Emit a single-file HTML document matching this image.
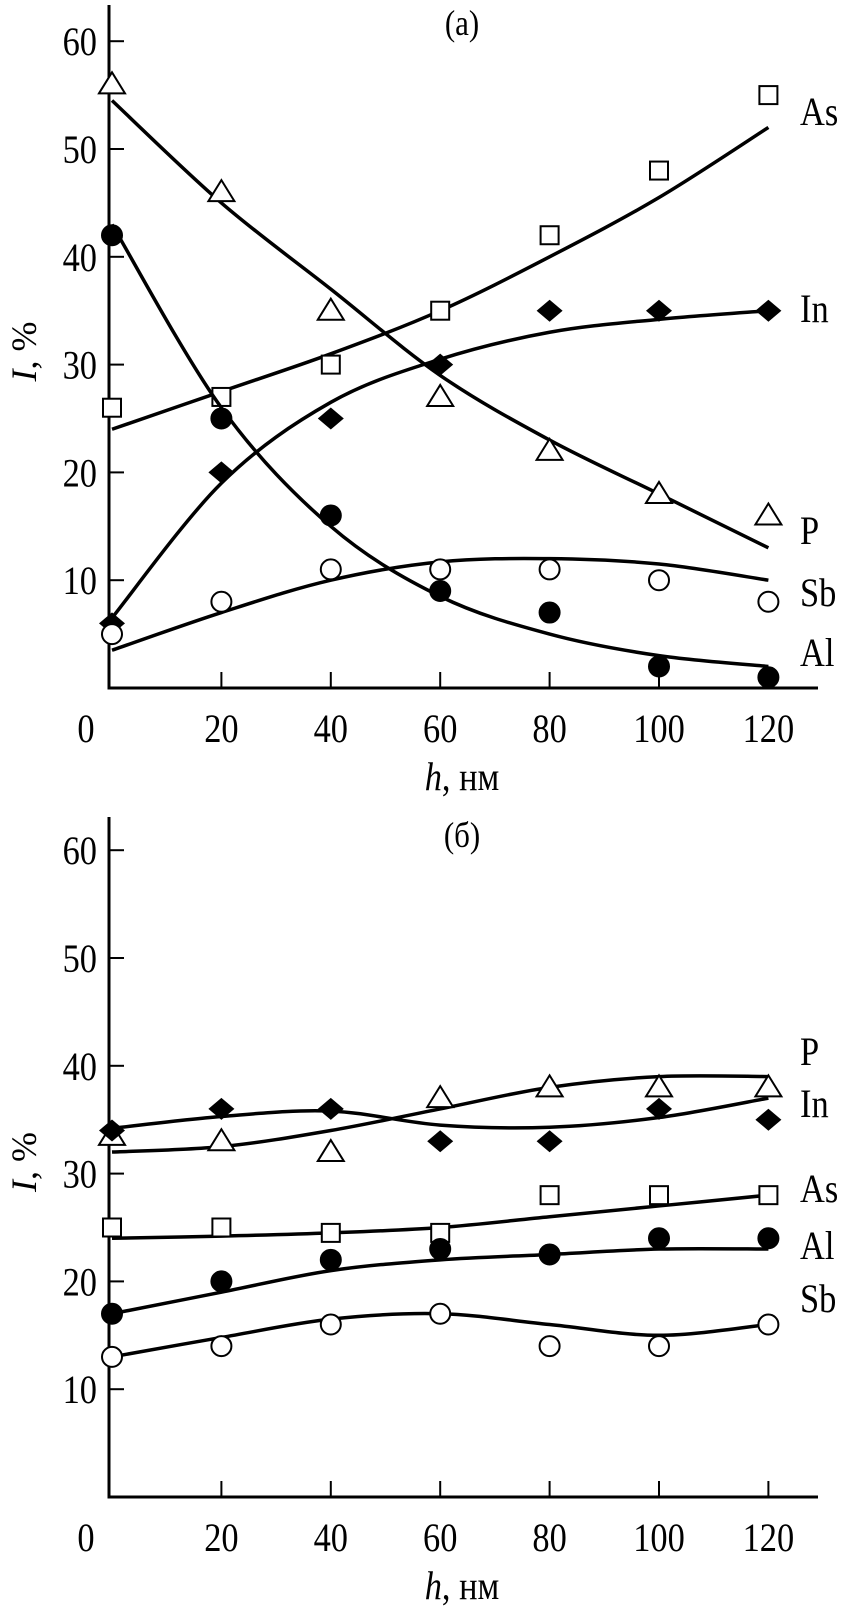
<!DOCTYPE html>
<html><head><meta charset="utf-8"><style>
body{margin:0;background:#fff}
svg{display:block;font-family:"Liberation Serif",serif}
</style></head><body>
<svg id="c" width="843" height="1612" viewBox="0 0 843 1612"></svg>
<script>
const xTicks=[0,20,40,60,80,100,120];
const yTicks=[10,20,30,40,50,60];
const xs=[0,20,40,60,80,100,120];
// panel a
const aAs=[26,27,30,35,42,48,55], aAsFit=[24,27.5,31,35,40,45.5,52];
const aIn=[6,20,25,30,35,35,35], aInFit=[6.5,19,26.5,30.5,33,34.2,35];
const aP=[56,46,35,27,22,18,16], aPFit=[54.5,45,37,29,23,18,13];
const aSb=[5,8,11,11,11,10,8], aSbFit=[3.5,7,10,11.7,12,11.5,10];
const aAl=[42,25,16,9,7,2,1], aAlFit=[43,26,15,8.5,5,3,2];
// panel b
const bP=[33.5,33,32,37,38,38,38], bPFit=[32,32.5,34,36,38,39,39];
const bIn=[34,36,36,33,33,36,35], bInFit=[34.2,35.3,35.8,34.5,34.3,35.2,37];
const bAs=[25,25,24.5,24.5,28,28,28], bAsFit=[24,24.2,24.5,25,26,27,28];
const bAl=[17,20,22,23,22.5,24,24], bAlFit=[17,19,21,22,22.5,23,23];
const bSb=[13,14,16,17,14,14,16], bSbFit=[13,14.8,16.5,17,16,15,16];

const NS="http://www.w3.org/2000/svg";
const svg=document.getElementById('c');
function el(t,a,p){const e=document.createElementNS(NS,t);for(const k in a)e.setAttribute(k,a[k]);(p||svg).appendChild(e);return e;}
function txt(s,x,y,a,p){const e=el('text',Object.assign({x:0,y:0,'font-size':40,fill:'#000',transform:`translate(${x} ${y}) scale(0.86 1)`},a||{}),p);e.textContent=s;return e;}
const X=v=>112+v*5.47;

function panel(id,y0,top,title,series,labels){
  const g=el('g',{});
  
  
  const Y=v=>y0-v*10.78;
  const ax=el('path',{d:`M109 ${top}V${y0}H818`,stroke:'#000','stroke-width':3,fill:'none'},g);
  
  
  yTicks.forEach(t=>{
    el('line',{x1:109,x2:124,y1:Y(t),y2:Y(t),stroke:'#000','stroke-width':2},g);
    const l=txt(String(t),97,Y(t)+14,{'text-anchor':'end'},g);
    
    
  });
  xTicks.forEach(t=>{
    if(t>0)el('line',{x1:X(t),x2:X(t),y1:y0,y2:y0-16,stroke:'#000','stroke-width':2},g);
    const l=txt(String(t),t==0?86:X(t),y0+54,{'text-anchor':'middle'},g);
    
    
  });
  const xt=txt('',462,y0+102,{'text-anchor':'middle'},g);
  xt.innerHTML='<tspan font-style="italic">h</tspan>, нм';
  
  
  const yc=(top+y0)/2+5;
  const yt=el('text',{x:0,y:0,'font-size':36,'text-anchor':'middle',transform:`translate(36 ${yc}) rotate(-90)`},g);
  yt.innerHTML='<tspan font-style="italic">I</tspan>, %';
  
  
  const pt=txt(title,462,top+30,{'text-anchor':'middle','font-size':36},g);
  
  
  series.forEach(s=>{
    const P=xs.map((x,i)=>[X(x),Y(s.fit[i])]);
    let d=`M${P[0][0]} ${P[0][1]}`;
    for(let i=0;i<P.length-1;i++){
      const p0=P[Math.max(0,i-1)],p1=P[i],p2=P[i+1],p3=P[Math.min(P.length-1,i+2)];
      d+=`C${p1[0]+(p2[0]-p0[0])/6} ${p1[1]+(p2[1]-p0[1])/6} ${p2[0]-(p3[0]-p1[0])/6} ${p2[1]-(p3[1]-p1[1])/6} ${p2[0]} ${p2[1]}`;
    }
    const c=el('path',{d:d,stroke:'#000','stroke-width':3.5,fill:'none'},g);
    
    
    s.vals.forEach((v,i)=>{
      const cx=X(xs[i]),cy=Y(v);let m;
      if(s.m=='sq')m=el('rect',{x:cx-9,y:cy-9,width:18,height:18,fill:'#fff',stroke:'#000','stroke-width':2},g);
      else if(s.m=='di')m=el('path',{d:`M${cx-13} ${cy}L${cx} ${cy-11}L${cx+13} ${cy}L${cx} ${cy+11}Z`,fill:'#000'},g);
      else if(s.m=='tr')m=el('path',{d:`M${cx-13} ${cy+9}L${cx} ${cy-12}L${cx+13} ${cy+9}Z`,fill:'#fff',stroke:'#000','stroke-width':2},g);
      else m=el('ellipse',{cx:cx,cy:cy,rx:10,ry:10,fill:s.m=='fc'?'#000':'#fff',stroke:'#000','stroke-width':2},g);
      
      
    });
  });
  labels.forEach(l=>{
    const t=txt(l[0],800,l[1]+12,{},g);
    
    
  });
}
panel('a',688,5,'(a)',[
 {name:'As',vals:aAs,fit:aAsFit,m:'sq'},
 {name:'In',vals:aIn,fit:aInFit,m:'di'},
 {name:'P',vals:aP,fit:aPFit,m:'tr'},
 {name:'Sb',vals:aSb,fit:aSbFit,m:'oc'},
 {name:'Al',vals:aAl,fit:aAlFit,m:'fc'}],
 [['As',113],['In',310],['P',532],['Sb',594],['Al',654]]);
panel('b',1497,817,'(б)',[
 {name:'P',vals:bP,fit:bPFit,m:'tr'},
 {name:'In',vals:bIn,fit:bInFit,m:'di'},
 {name:'As',vals:bAs,fit:bAsFit,m:'sq'},
 {name:'Al',vals:bAl,fit:bAlFit,m:'fc'},
 {name:'Sb',vals:bSb,fit:bSbFit,m:'oc'}],
 [['P',1053],['In',1105],['As',1190],['Al',1247],['Sb',1300]]);
</script>
</body></html>
